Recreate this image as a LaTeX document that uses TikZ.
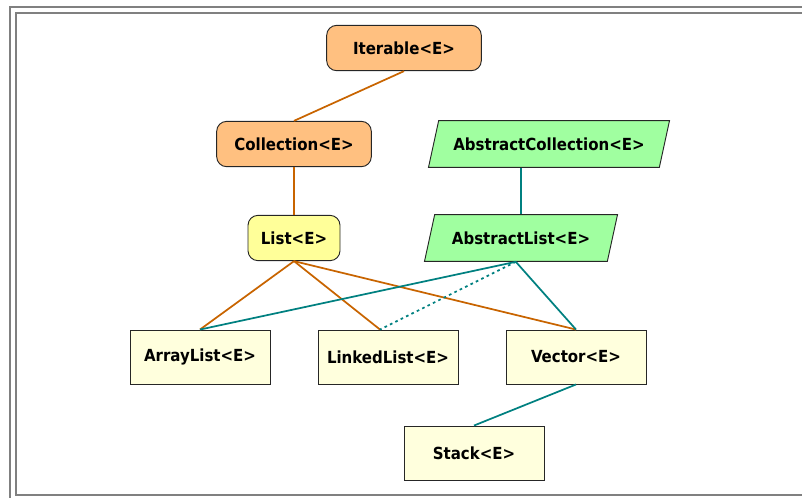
\documentclass[tikz,border=0pt]{standalone}
\usepackage{fontspec}
\setmainfont{DejaVu Sans Condensed}
\usepackage{tikz}
\usetikzlibrary{shapes,arrows}
\definecolor{ifacefill}{RGB}{255,192,128}
\definecolor{listfill}{RGB}{255,255,153}
\definecolor{absfill}{RGB}{160,255,160}
\definecolor{implfill}{RGB}{255,255,221}
\definecolor{ifacecol}{RGB}{200,100,0}
\definecolor{implcol}{RGB}{0,128,128}
\definecolor{framecol}{RGB}{128,128,128}
\tikzstyle{box} = [draw=black!85, line width=0.7pt, font=\fontsize{12.5}{15}\selectfont\bfseries]
\tikzstyle{iface} = [box, rectangle, rounded corners=7.5pt, fill=ifacefill, minimum width=116pt, minimum height=34pt]
\tikzstyle{listiface} = [iface, fill=listfill, minimum width=69pt]
\tikzstyle{abstract} = [box, trapezium, trapezium left angle=65, trapezium right angle=115, trapezium stretches body, fill=absfill, minimum height=35pt]
\tikzstyle{impl} = [box, rectangle, fill=implfill, minimum width=105pt, minimum height=40.5pt]
\tikzstyle{ifaceline} = [draw=ifacecol, line width=1.3pt]
\tikzstyle{implline} = [draw=implcol, line width=1.3pt]

\begin{document}
\begin{tikzpicture}[x=0.75pt, y=-0.75pt]
		\useasboundingbox (0,0) rectangle (802,497);
		% frame
		\draw [framecol, line width=1.5pt] (10,505) -- (10,7) -- (810,7);
		\draw [framecol, line width=1.5pt] (810,495) -- (16,495) -- (16,13) -- (810,13);
		
		\node [iface] (iter) at (404,48) {Iterable<E>};
		\node [iface, below of=iter, node distance=72pt, xshift=-82.5pt] (coll) {Collection<E>};
		\node [listiface, below of=coll, node distance=70.5pt] (list) {List<E>};
		\node [abstract, right of=coll, node distance=191.25pt, minimum width=180.75pt] (abscoll) {AbstractCollection<E>};
		\node [abstract, right of=list, node distance=170.25pt, minimum width=144.75pt] (abslist) {AbstractList<E>};
		\node [impl, below of=list, node distance=89.25pt, xshift=-70.5pt] (arraylist) {ArrayList<E>};
		\node [impl, right of=arraylist, node distance=141pt] (linkedlist) {LinkedList<E>};
		\node [impl, right of=linkedlist, node distance=141pt] (vector) {Vector<E>};
		\node [impl, below of=vector, node distance=72pt, xshift=-76.5pt] (stack) {Stack<E>};
		
		
		\draw [ifaceline] (iter.south) -- (coll.north);
		\draw [ifaceline] (coll.south) -- (list.north);
		\draw [ifaceline] (list.south) -- (arraylist.north);
		\draw [ifaceline] (list.south) -- ([xshift=-6pt]linkedlist.north);
		\draw [ifaceline] (list.south) -- (vector.north);
		\draw [implline] (abslist.north |- abscoll.south) -- (abslist.north);
		\draw [implline] (abslist.bottom side) -- (arraylist.north);
		\draw [implline, dash pattern=on 2pt off 2.5pt] (abslist.bottom side) -- ([xshift=-6pt]linkedlist.north);
		\draw [implline] (abslist.bottom side) -- (vector.north);
		\draw [implline] (vector.south) -- (stack.north);
		
		
		\end{tikzpicture}
\end{document}
